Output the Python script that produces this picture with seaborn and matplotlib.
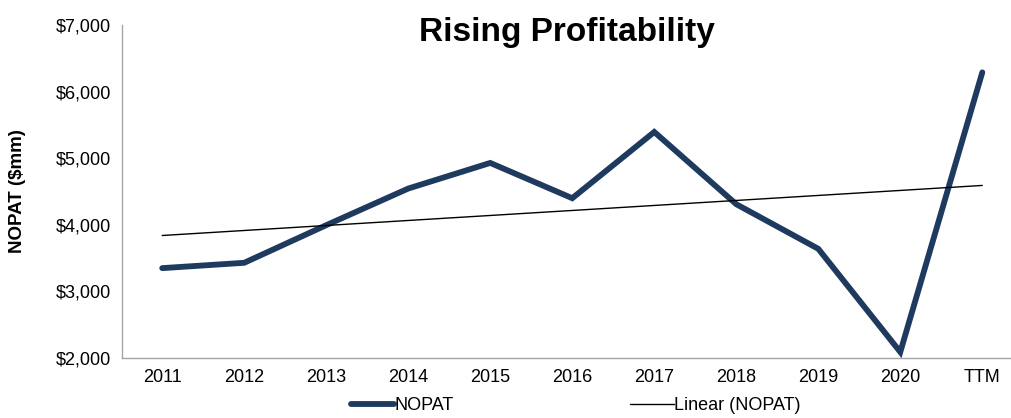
import matplotlib
matplotlib.use("Agg")
import matplotlib.pyplot as plt
import numpy as np
import pandas as pd
import seaborn as sns

# NOPAT by year ($mm)
years = ["2011", "2012", "2013", "2014", "2015", "2016", "2017", "2018", "2019", "2020", "TTM"]
nopat = [3350, 3430, 3995, 4545, 4930, 4400, 5395, 4310, 3640, 2090, 6290]

sns.set_theme(style="white")
plt.rcParams["font.family"] = ["Liberation Sans", "DejaVu Sans"]
plt.rcParams["text.color"] = "black"
plt.rcParams["axes.labelcolor"] = "black"

df = pd.DataFrame({"year": years, "nopat": nopat})
pos = np.arange(len(years))
slope, intercept = np.polyfit(pos, df["nopat"], 1)
df["trend"] = intercept + slope * pos
df["pos"] = pos

fig = plt.figure(figsize=(10.11, 4.18), dpi=100)
ax = fig.add_axes([0.1207, 0.1435, 0.8793, 0.7965])

sns.lineplot(data=df, x="pos", y="nopat", ax=ax, color="#1f3a5f", linewidth=4.2,
             solid_capstyle="round", solid_joinstyle="miter", label="NOPAT")
sns.lineplot(data=df, x="pos", y="trend", ax=ax, color="black", linewidth=1.0,
             label="Linear (NOPAT)")

ax.set_xlim(-0.49, 10.35)
ax.set_ylim(2000, 7000)
ax.set_xticks(pos)
ax.set_xticklabels(years)
ax.set_yticks(range(2000, 7001, 1000))
ax.yaxis.set_major_formatter(matplotlib.ticker.FuncFormatter(lambda v, _: f"${v:,.0f}"))
ax.tick_params(axis="both", length=0, labelsize=13, colors="black", pad=8)
ax.set_xlabel("")
ax.set_ylabel("NOPAT ($mm)", fontsize=13.5, fontweight="bold", labelpad=21)

for side in ["top", "right"]:
    ax.spines[side].set_visible(False)
for side in ["left", "bottom"]:
    ax.spines[side].set_color("#a6a6a6")
    ax.spines[side].set_linewidth(1.0)

ax.text(0.5, 0.978, "Rising Profitability", transform=ax.transAxes, ha="center", va="center",
        fontsize=24, fontweight="bold")

ax.legend(loc="center", bbox_to_anchor=(0.51, -0.144), ncol=2, frameon=False,
          fontsize=13, handlelength=2.4, handletextpad=0.0, columnspacing=9.8)

fig.savefig("out.png", dpi=100)
